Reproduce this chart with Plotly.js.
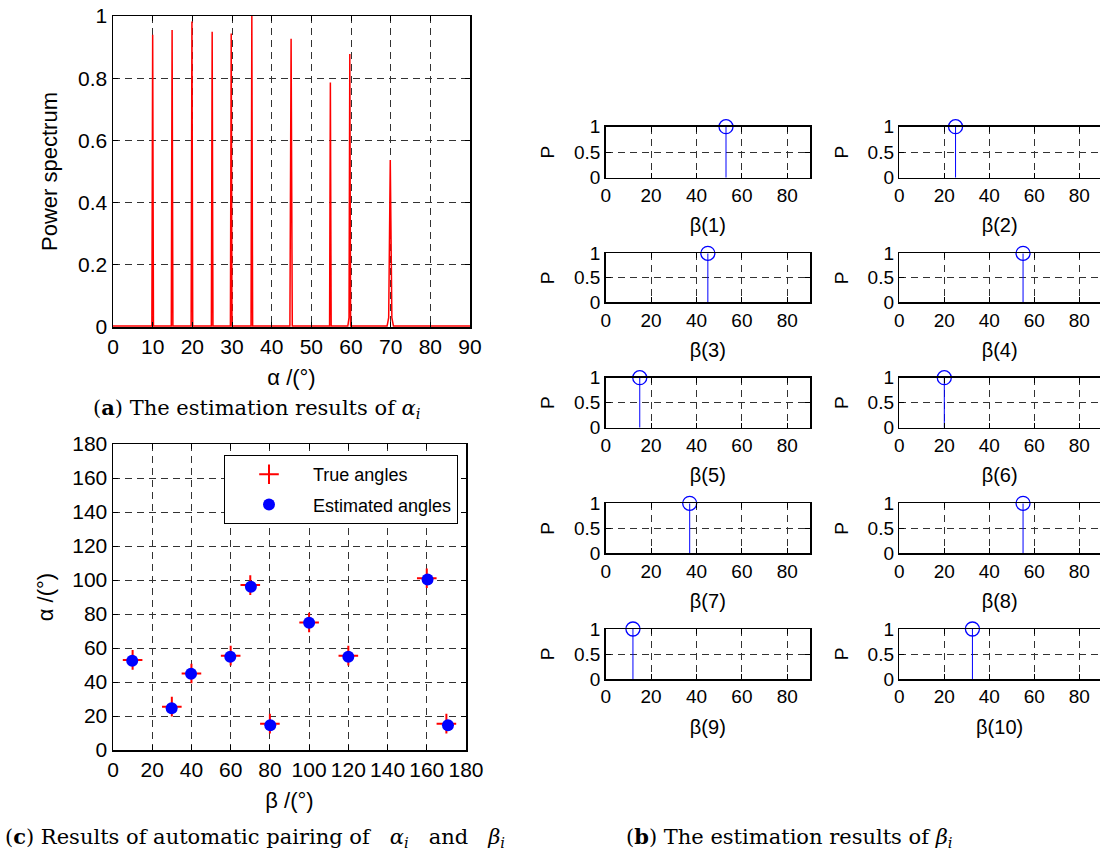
<!DOCTYPE html>
<html><head><meta charset="utf-8">
<script src="https://cdn.plot.ly/plotly-3.0.1.min.js"></script>
<style>html,body{margin:0;padding:0;background:#fff}</style>
</head><body><div id="chart" style="width:1100px;height:850px"></div>
<script>
// ---------- Panel (a): power spectrum of alpha ----------
const spectrumAlpha = [0, 9.8, 10, 10.2, 14.7, 14.9, 15.1, 19.7, 19.9, 20.1, 24.8, 25, 25.2, 29.6, 29.8, 30, 34.8, 35, 35.2, 44.6, 44.9, 45.2, 54.6, 54.8, 55, 59.2, 59.5, 59.7, 59.9, 69.1, 69.5, 69.9, 70.3, 70.7, 90];
const spectrumPower = [0.003, 0.003, 0.94, 0.003, 0.003, 0.955, 0.003, 0.003, 0.982, 0.003, 0.003, 0.949, 0.003, 0.003, 0.944, 0.003, 0.003, 1.0, 0.003, 0.003, 0.927, 0.003, 0.003, 0.786, 0.003, 0.003, 0.03, 0.878, 0.003, 0.003, 0.03, 0.537, 0.03, 0.003, 0.003];

// ---------- Panel (c): pairing results ----------
const betaTrue  = [10, 30, 40, 60, 70, 80, 100, 120, 160, 170];
const alphaTrue = [53, 25.5, 45, 55.5, 97, 15.5, 75, 55.5, 101, 15.5];
const betaEst   = [9.8, 29.9, 39.8, 59.8, 70.3, 80.2, 100, 120, 160.4, 170.8];
const alphaEst  = [52.5, 24.5, 44.8, 54.8, 96, 14.5, 74.8, 54.8, 100.3, 14.5];
const legendNames = ['True angles', 'Estimated angles'];

// ---------- Panel (b): beta estimates ----------
const stemLabels = ['β(1)', 'β(2)', 'β(3)', 'β(4)', 'β(5)', 'β(6)', 'β(7)', 'β(8)', 'β(9)', 'β(10)'];
const stemBeta   = [53, 25, 45, 55, 15, 20, 37, 55, 12, 32.5];
const stemPower  = [1, 1, 1, 1, 1, 1, 1, 1, 1, 1];

// ---------- helpers ----------
const W = 1100, H = 850;
const px = p => p / W;
const py = p => 1 - p / H;
const sans = 'Liberation Sans, Arial, sans-serif';
const serif = 'DejaVu Serif, serif';

function axis(extra) {
  return Object.assign({
    showline: true, linecolor: '#000', linewidth: 1.5, mirror: 'ticks',
    ticks: 'inside', ticklen: 5, tickcolor: '#000', tickwidth: 1,
    showgrid: true, gridcolor: '#333', gridwidth: 1, griddash: '7px,5px',
    zeroline: false, fixedrange: true,
    tickfont: {family: sans, size: 21, color: '#000'}
  }, extra);
}

const traces = [];
const layout = {
  width: W, height: H,
  margin: {l: 0, r: 0, t: 0, b: 0},
  paper_bgcolor: '#fff', plot_bgcolor: '#fff',
  font: {family: sans, color: '#000'},
  showlegend: true,
  legend: {
    x: px(224), y: py(455), xanchor: 'left', yanchor: 'top',
    bgcolor: '#fff', bordercolor: '#000', borderwidth: 1,
    font: {family: sans, size: 18, color: '#000'},
    itemwidth: 78,
    tracegroupgap: 4
  },
  annotations: []
};

// Panel (a)
traces.push({x: spectrumAlpha, y: spectrumPower, xaxis: 'x', yaxis: 'y', type: 'scatter',
  mode: 'lines', line: {color: '#ff0000', width: 1.5}, showlegend: false, hoverinfo: 'x+y'});
layout.xaxis = axis({domain: [px(113), px(470)], range: [0, 90], dtick: 10, anchor: 'y',
  title: {text: 'α /(°)', font: {family: sans, size: 22}, standoff: 13}});
layout.yaxis = axis({domain: [py(327), py(16)], range: [0, 1], dtick: 0.2, anchor: 'x',
  title: {text: 'Power spectrum', font: {family: sans, size: 22}, standoff: 14}});

// Panel (c)
traces.push({x: betaTrue, y: alphaTrue, xaxis: 'x2', yaxis: 'y2', type: 'scatter', mode: 'markers',
  name: legendNames[0], legendgroup: 'a',
  marker: {symbol: 'cross-thin-open', size: 14, color: '#ff0000', line: {width: 2, color: '#ff0000'}}});
traces.push({x: betaEst, y: alphaEst, xaxis: 'x2', yaxis: 'y2', type: 'scatter', mode: 'markers',
  name: legendNames[1], legendgroup: 'b',
  marker: {symbol: 'circle', size: 12, color: '#0000ff'}});
layout.xaxis2 = axis({domain: [px(113), px(466)], range: [0, 180], dtick: 20, anchor: 'y2',
  title: {text: 'β /(°)', font: {family: sans, size: 22}, standoff: 13}});
layout.yaxis2 = axis({domain: [py(750), py(444)], range: [0, 180], dtick: 20, anchor: 'x2',
  title: {text: 'α /(°)', font: {family: sans, size: 22}, standoff: 12}});

// Panel (b): 5 rows x 2 columns
const rowTop = [126.7, 253.3, 377.7, 503.3, 629];
const rowBot = [177.7, 302.3, 427.7, 553.3, 679];
for (let i = 0; i < stemBeta.length; i++) {
  const k = i + 3;
  const col = i % 2, row = Math.floor(i / 2);
  const xa = 'x' + k, ya = 'y' + k;
  traces.push({x: [stemBeta[i], stemBeta[i]], y: [0, stemPower[i]], xaxis: xa, yaxis: ya,
    type: 'scatter', mode: 'lines', line: {color: '#0000ff', width: 1}, showlegend: false, hoverinfo: 'skip'});
  traces.push({x: [stemBeta[i]], y: [stemPower[i]], xaxis: xa, yaxis: ya,
    type: 'scatter', mode: 'markers', cliponaxis: false, showlegend: false,
    marker: {symbol: 'circle-open', size: 14, color: '#0000ff', line: {width: 1.3, color: '#0000ff'}}});
  const xdom = col === 0 ? [px(605.7), px(810)] : [px(899.3), 1];
  const xrange = col === 0 ? [0, 90] : [0, 89.2];
  layout['xaxis' + k] = axis({domain: xdom, range: xrange, dtick: 20, anchor: ya,
    tickfont: {family: sans, size: 19, color: '#000'},
    title: {text: stemLabels[i], font: {family: sans, size: 20}, standoff: 13}});
  layout['yaxis' + k] = axis({domain: [py(rowBot[row]), py(rowTop[row])], range: [0, 1],
    tickvals: [0, 0.5, 1], anchor: xa, mirror: col === 0 ? 'ticks' : false,
    tickfont: {family: sans, size: 19, color: '#000'},
    title: {text: 'P', font: {family: sans, size: 19}, standoff: 14}});
}

// Captions
layout.annotations.push({xref: 'paper', yref: 'paper', x: px(256), y: py(408), xanchor: 'center', yanchor: 'middle',
  showarrow: false, font: {family: serif, size: 21, color: '#000'},
  text: '(<b>a</b>) The estimation results of <i>α</i><sub><i>i</i></sub>'});
layout.annotations.push({xref: 'paper', yref: 'paper', x: px(255), y: py(837), xanchor: 'center', yanchor: 'middle',
  showarrow: false, font: {family: serif, size: 21, color: '#000'},
  text: '(<b>c</b>) Results of automatic pairing of \u00a0\u00a0<i>α</i><sub><i>i</i></sub>\u00a0\u00a0 and \u00a0\u00a0<i>β</i><sub><i>i</i></sub>'});
layout.annotations.push({xref: 'paper', yref: 'paper', x: px(789), y: py(837), xanchor: 'center', yanchor: 'middle',
  showarrow: false, font: {family: serif, size: 21, color: '#000'},
  text: '(<b>b</b>) The estimation results of <i>β</i><sub><i>i</i></sub>'});

Plotly.newPlot('chart', traces, layout, {staticPlot: true, displayModeBar: false});
</script>
</body></html>
